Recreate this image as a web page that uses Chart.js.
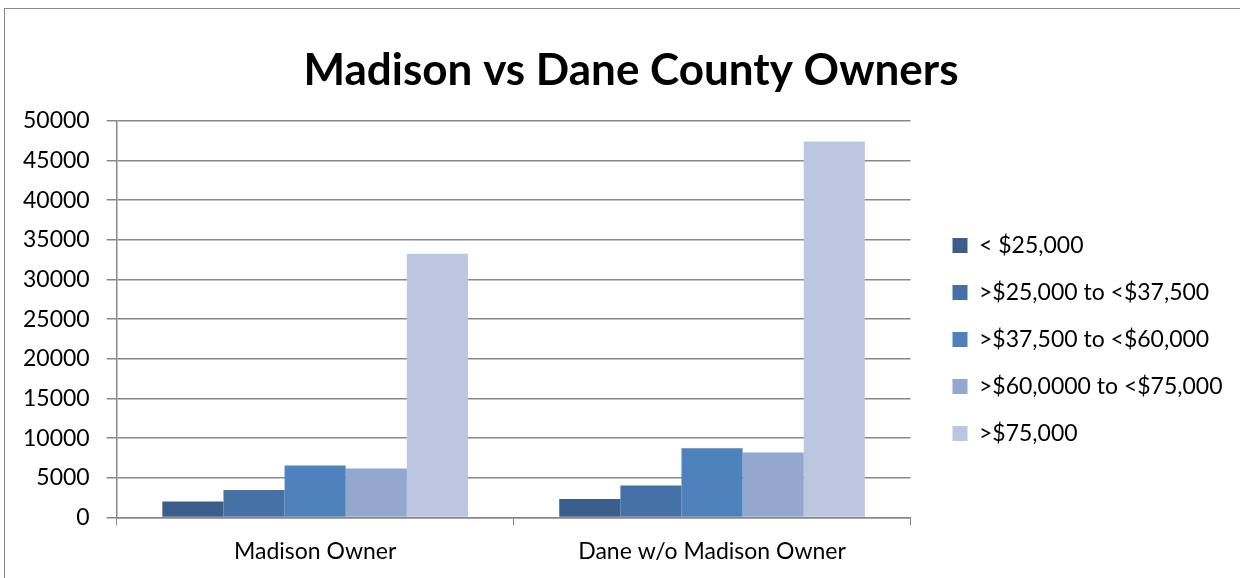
<!DOCTYPE html>
<html>
<head>
<meta charset="utf-8">
<script src="https://cdn.jsdelivr.net/npm/chart.js@4.4.0/dist/chart.umd.min.js"></script>
<style>
  html, body { margin: 0; padding: 0; background: #fff; }
  #wrap { position: relative; width: 1240px; height: 578px; overflow: hidden; }
  #frame { position: absolute; left: 4px; top: 8px; width: 1300px; height: 700px; border: 1px solid #888; box-sizing: border-box; }
  #cv { position: absolute; left: 0; top: 0; }
</style>
</head>
<body>
<div id="wrap">
  <div id="frame"></div>
  <canvas id="cv" width="1240" height="578"></canvas>
</div>
<script>
// categories and series
const categories = ['Madison Owner', 'Dane w/o Madison Owner'];
const seriesLabels = ['< $25,000', '>$25,000 to <$37,500', '>$37,500 to <$60,000', '>$60,0000 to <$75,000', '>$75,000'];
const under25k = [2000, 2330];
const from25to37k = [3440, 4010];
const from37to60k = [6550, 8720];
const from60to75k = [6170, 8170];
const over75k = [33250, 47390];
const seriesColors = ['#3B5E8C', '#4571A6', '#4F81BD', '#94A8CF', '#BBC7E0'];

const values = [under25k, from25to37k, from37to60k, from60to75k, over75k];
const FONT = 'Lato, "Open Sans", sans-serif';

Chart.defaults.font.family = FONT;
Chart.defaults.color = '#000';

// push the legend away from the plot and down, and nudge the title, like the original
const legendShift = {
  id: 'legendShift',
  afterLayout(chart) {
    const lg = chart.legend;
    const pad = lg.options.labels.padding;
    const dx = (chart.chartArea.right + 42) - (lg.left + pad);
    const dy = 41;
    lg.left += dx; lg.right += dx;
    lg.top += dy; lg.bottom += dy;
    const tb = chart.titleBlock;
    tb.left += 22; tb.right += 22;
  },
};

const ctx = document.getElementById('cv').getContext('2d');
new Chart(ctx, {
  type: 'bar',
  data: {
    labels: categories,
    datasets: seriesLabels.map((label, i) => ({
      label: label,
      data: values[i],
      backgroundColor: seriesColors[i],
      borderWidth: 0,
      barPercentage: 1,
      categoryPercentage: 0.77,
    })),
  },
  plugins: [legendShift],
  options: {
    responsive: false,
    animation: false,
    devicePixelRatio: 1,
    layout: { padding: { left: 6, right: 28, top: 20, bottom: 1 } },
    plugins: {
      title: {
        display: true,
        text: 'Madison vs Dane County Owners',
        font: { size: 44, weight: 'bold', family: FONT },
        color: '#000',
        padding: { top: 24, bottom: 24 },
      },
      legend: {
        position: 'right',
        labels: {
          boxWidth: 15,
          boxHeight: 15,
          padding: 24,
          font: { size: 23, family: FONT },
          color: '#000',
        },
      },
      tooltip: { enabled: false },
    },
    scales: {
      y: {
        min: 0,
        max: 50000,
        ticks: {
          stepSize: 5000,
          font: { size: 23 },
          color: '#000',
          padding: 17,
          callback: (v) => String(v),
        },
        grid: { color: '#888888', lineWidth: 1.5, tickLength: 10 },
        border: { color: '#888888', width: 1.5 },
      },
      x: {
        ticks: { font: { size: 23 }, color: '#000', padding: 12 },
        grid: { drawOnChartArea: false, color: '#888888', tickLength: 8, offset: true },
        border: { color: '#888888', width: 1.5 },
      },
    },
  },
});
</script>
</body>
</html>
